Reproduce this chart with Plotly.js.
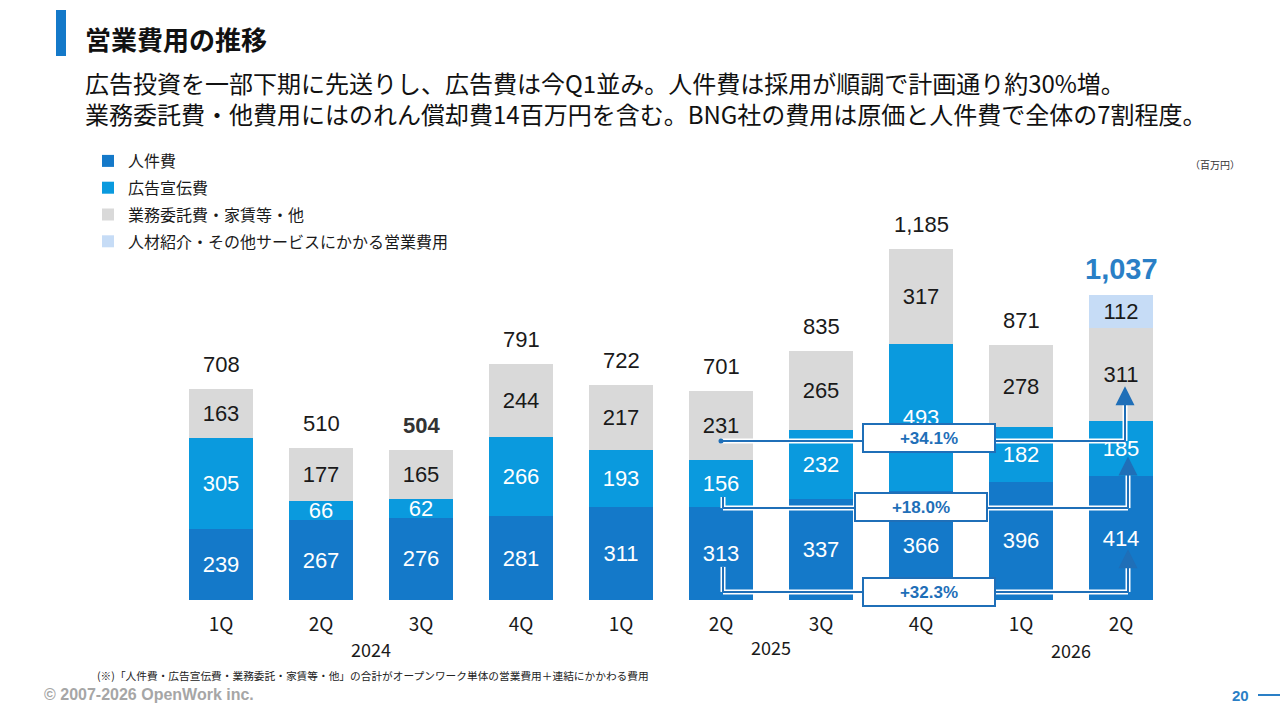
<!DOCTYPE html>
<html>
<head>
<meta charset="utf-8">
<script src="https://cdn.plot.ly/plotly-3.0.1.min.js"></script>
<style>
    html, body { margin: 0; padding: 0; background: #ffffff; }
    #chart { width: 1280px; height: 720px; }
</style>
</head>
<body>
<div id="chart"></div>
<script>
// data (百万円)
const periods = ['2024-1Q', '2024-2Q', '2024-3Q', '2024-4Q', '2025-1Q', '2025-2Q', '2025-3Q', '2025-4Q', '2026-1Q', '2026-2Q'];
const quarterLabels = ['1Q', '2Q', '3Q', '4Q', '1Q', '2Q', '3Q', '4Q', '1Q', '2Q'];
const yearLabels = ['2024', '2025', '2026'];
const personnel = [239, 267, 276, 281, 311, 313, 337, 366, 396, 414];
const advertising = [305, 66, 62, 266, 193, 156, 232, 493, 182, 185];
const outsourcing = [163, 177, 165, 244, 217, 231, 265, 317, 278, 311];
const recruiting = [null, null, null, null, null, null, null, null, null, 112];
const totals = [708, 510, 504, 791, 722, 701, 835, 1185, 871, 1037];
const growthLabels = ['+34.1%', '+18.0%', '+32.3%'];
const seriesNames = ['人件費', '広告宣伝費', '業務委託費・家賃等・他', '人材紹介・その他サービスにかかる営業費用'];

const JP = '"Noto Sans CJK JP", "Noto Sans", sans-serif';
const NUM = '"Liberation Sans", Arial, sans-serif';
const BLUE_LINE = '#1f6fb8';

// plot area in pixels
const PLOT_L = 171, PLOT_R = 1171, PLOT_T = 212, PLOT_B = 600;
const px = x => (x - PLOT_L) / (PLOT_R - PLOT_L);
const py = y => (PLOT_B - y) / (PLOT_B - PLOT_T);

function barTrace(values, name, color, textColor) {
    return {
        type: 'bar',
        x: periods,
        y: values,
        name: name,
        legendgroup: name,
        marker: { color: color, line: { width: 0 } },
        text: values.map(v => v == null ? '' : String(v)),
        texttemplate: '%{text}',
        textposition: 'inside',
        insidetextanchor: 'middle',
        textangle: 0,
        constraintext: 'none',
        textfont: { family: NUM, size: 22, color: textColor },
        hoverinfo: 'none'
    };
}

const traces = [
    barTrace(personnel, seriesNames[0], '#1479c9', '#ffffff'),
    barTrace(advertising, seriesNames[1], '#0a9ade', '#ffffff'),
    barTrace(outsourcing, seriesNames[2], '#d9d9d9', '#1a1a1a'),
    barTrace(recruiting, seriesNames[3], '#c6dcf6', '#1a1a1a')
];

const stackTops = periods.map((p, i) =>
    personnel[i] + advertising[i] + outsourcing[i] + (recruiting[i] || 0));

const annotations = [];

// totals above each bar
totals.forEach((t, i) => {
    const last = i === totals.length - 1;
    annotations.push({
        x: periods[i], y: stackTops[i], xref: 'x', yref: 'y',
        text: t.toLocaleString('en-US'),
        showarrow: false, yanchor: 'bottom', yshift: last ? 8 : 10,
        font: {
            family: NUM,
            size: last ? 29 : 22,
            color: last ? '#2a7fc6' : (i === 2 ? '#333333' : '#1a1a1a'),
            weight: (last || i === 2) ? 'bold' : 'normal'
        }
    });
});

// year labels under quarters
[[1.5, 649], [5.5, 647], [8.5, 650]].forEach((pos, i) => {
    annotations.push({
        x: pos[0], y: py(pos[1]), xref: 'x', yref: 'paper', yanchor: 'middle',
        text: yearLabels[i], showarrow: false,
        font: { family: JP, size: 18, color: '#1a1a1a' }
    });
});

// growth connectors: start index/value, corner value, arrow tip value, box position
const connectors = [
    { x0: 5.0, y0: 533, yh: 533, x1: 9.04, tip: 716, bx: 7.08, by: 543 },
    { x0: 5.02, y0: 345, yh: 308, x1: 9.07, tip: 481, bx: 6.995, by: 312 },
    { x0: 5.02, y0: 111, yh: 27, x1: 9.07, tip: 170, bx: 7.075, by: 27 }
];

const shapes = [];
connectors.forEach((c, k) => {
    const pts = [[c.x0, c.y0], [c.x0, c.yh], [c.x1, c.yh], [c.x1, c.tip - 25]];
    [{ w: 5, col: '#ffffff' }, { w: 2, col: BLUE_LINE }].forEach(st => {
        for (let j = 0; j < pts.length - 1; j++) {
            if (pts[j][0] === pts[j + 1][0] && pts[j][1] === pts[j + 1][1]) continue;
            shapes.push({
                type: 'line', xref: 'x', yref: 'y', layer: 'above',
                x0: pts[j][0], y0: pts[j][1], x1: pts[j + 1][0], y1: pts[j + 1][1],
                line: { color: st.col, width: st.w }
            });
        }
    });
    annotations.push({
        x: c.x1, y: c.tip, ax: c.x1, ay: c.tip - 32,
        xref: 'x', yref: 'y', axref: 'x', ayref: 'y',
        text: '', showarrow: true, arrowhead: 2, arrowsize: 1.9, arrowwidth: 2,
        arrowcolor: BLUE_LINE, standoff: 0
    });
    annotations.push({
        x: c.bx, y: c.by, xref: 'x', yref: 'y',
        text: growthLabels[k], showarrow: false,
        width: 128, height: 24, borderpad: 1,
        bgcolor: '#ffffff', bordercolor: BLUE_LINE, borderwidth: 2,
        font: { family: NUM, size: 17, color: BLUE_LINE, weight: 'bold' }
    });
});

// little dot where the top connector starts
shapes.push({
    type: 'circle', xref: 'x', yref: 'y', layer: 'above',
    xsizemode: 'pixel', ysizemode: 'pixel', xanchor: 5.0, yanchor: 533,
    x0: -2.5, x1: 2.5, y0: -2.5, y1: 2.5,
    fillcolor: BLUE_LINE, line: { width: 0 }
});

// slide furniture
shapes.push({
    type: 'rect', xref: 'paper', yref: 'paper',
    x0: px(56), x1: px(66), y0: py(56), y1: py(10),
    fillcolor: '#1479c9', line: { width: 0 }
});
shapes.push({
    type: 'line', xref: 'paper', yref: 'paper',
    x0: px(1258), x1: px(1280), y0: py(695), y1: py(695),
    line: { color: '#2a7fc6', width: 2 }
});

function pageText(x, y, text, font, xanchor) {
    annotations.push({
        x: px(x), y: py(y), xref: 'paper', yref: 'paper',
        xanchor: xanchor || 'left', yanchor: 'middle', align: 'left',
        text: text, showarrow: false, font: font
    });
}

pageText(83, 38, '営業費用の推移', { family: JP, size: 26, color: '#111111', weight: 'bold' });
pageText(83, 98, '広告投資を一部下期に先送りし、広告費は今Q1並み。人件費は採用が順調で計画通り約30%増。<br>' +
    '業務委託費・他費用にはのれん償却費14百万円を含む。BNG社の費用は原価と人件費で全体の7割程度。',
    { family: JP, size: 24, color: '#111111' });
pageText(1242, 164, '（百万円）', { family: JP, size: 10, color: '#333333' }, 'right');
pageText(95, 675, '(※)「人件費・広告宣伝費・業務委託・家賃等・他」の合計がオープンワーク単体の営業費用＋連結にかかわる費用',
    { family: JP, size: 10.7, color: '#222222' });
pageText(42, 694, '© 2007-2026 OpenWork inc.', { family: NUM, size: 16, color: '#a6a6a6', weight: 'bold' });
pageText(1251, 695, '20', { family: NUM, size: 15, color: '#2a7fc6', weight: 'bold' }, 'right');

const layout = {
    width: 1280,
    height: 720,
    plot_bgcolor: '#ffffff',
    paper_bgcolor: '#ffffff',
    barmode: 'stack',
    bargap: 0.36,
    margin: { l: PLOT_L, r: 1280 - PLOT_R, t: PLOT_T, b: 720 - PLOT_B, pad: 0 },
    xaxis: {
        type: 'category',
        range: [-0.5, 9.5],
        tickvals: periods,
        ticktext: quarterLabels,
        ticks: '',
        ticklabelstandoff: 11,
        tickfont: { family: JP, size: 19, color: '#1a1a1a' },
        showline: false,
        showgrid: false,
        zeroline: false,
        fixedrange: true
    },
    yaxis: {
        range: [0, 1300],
        visible: false,
        showgrid: false,
        zeroline: false,
        fixedrange: true
    },
    showlegend: true,
    legend: {
        x: px(88), y: py(144), xanchor: 'left', yanchor: 'top',
        traceorder: 'grouped',
        tracegroupgap: 3,
        font: { family: JP, size: 16, color: '#1a1a1a' },
        bgcolor: 'rgba(0,0,0,0)',
        itemclick: false,
        itemdoubleclick: false
    },
    hovermode: false,
    shapes: shapes,
    annotations: annotations
};

Plotly.newPlot('chart', traces, layout, { displayModeBar: false, staticPlot: true });
</script>
</body>
</html>
